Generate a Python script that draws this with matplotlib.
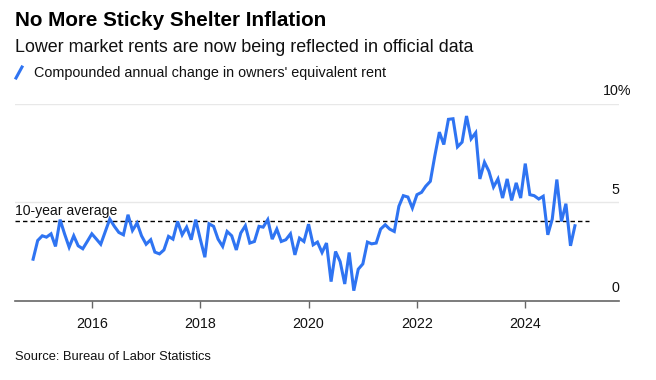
import numpy as np
import pandas as pd
import matplotlib
matplotlib.use("Agg")
import matplotlib.pyplot as plt
import matplotlib.dates as mdates

plt.rcParams['font.family'] = ['Liberation Sans', 'DejaVu Sans']

# monthly compounded annual change in OER, Dec 2014 - Dec 2024
months = pd.date_range('2014-12-01', '2024-12-01', freq='MS')
oer = [2.11, 3.06, 3.30, 3.23, 3.40, 2.76, 4.12, 3.40, 2.72, 3.30, 2.79, 2.64,
       3.01, 3.40, 3.13, 2.87, 3.52, 4.15, 3.78, 3.47, 3.35, 4.37, 3.57, 3.95,
       3.30, 2.87, 3.10, 2.47, 2.38, 2.58, 3.27, 3.13, 4.03, 3.35, 3.74, 3.10,
       4.12, 3.13, 2.21, 3.91, 3.78, 3.13, 2.76, 3.52, 3.30, 2.58, 3.44, 3.81,
       2.93, 3.01, 3.78, 3.74, 4.12, 3.13, 3.64, 3.01, 3.10, 3.40, 2.33, 3.18,
       3.01, 3.89, 2.84, 2.98, 2.45, 2.93, 0.97, 2.50, 1.99, 0.85, 2.45, 0.51,
       1.60, 1.87, 2.98, 2.89, 2.93, 3.64, 3.86, 3.64, 3.52, 4.80, 5.34, 5.27,
       4.71, 5.39, 5.51, 5.82, 6.07, 7.35, 8.57, 7.94, 9.22, 9.25, 7.82, 8.06,
       9.39, 8.23, 8.54, 6.19, 7.04, 6.58, 5.78, 6.19, 5.22, 6.19, 5.10, 5.99,
       5.22, 6.97, 5.39, 5.34, 5.17, 5.31, 3.35, 4.15, 6.16, 4.03, 4.93, 2.79,
       3.81]
avg_10yr = 4.05
avg_end = pd.Timestamp('2025-03-05')

year_ticks = [2016, 2018, 2020, 2022, 2024]
y_ticks = [0, 5, 10]
y_labels = ['0', '5', '10%']

W, H = 656, 380
fig = plt.figure(figsize=(W / 100, H / 100), dpi=100)
fig.patch.set_facecolor('white')

def px(x, y):
    return x / W, 1 - y / H

left, right, top, bottom = 15, 619, 104, 300.7
ax = fig.add_axes([left / W, 1 - bottom / H, (right - left) / W, (bottom - top) / H])

blue = '#2f74f2'
ax.plot(months, oer, color=blue, lw=2.2, solid_joinstyle='miter', zorder=3, clip_on=False)
ax.plot([pd.Timestamp('2014-08-01'), avg_end], [avg_10yr, avg_10yr],
        color='black', lw=1.0, ls=(0, (3.2, 2.2)), zorder=2, clip_on=False)
ax.text(pd.Timestamp('2014-08-01'), avg_10yr + 0.15, '10-year average',
        fontsize=10.1, va='bottom', ha='left', color='#111111')

ax.set_xlim(pd.Timestamp('2014-08-01'), pd.Timestamp('2025-09-24'))
ax.set_ylim(0, 10)

for v in y_ticks[1:]:
    ax.axhline(v, color='#e8e8e8', lw=1.0, zorder=1)
for s in ['top', 'right', 'left']:
    ax.spines[s].set_visible(False)
ax.spines['bottom'].set_color('#666666')
ax.spines['bottom'].set_linewidth(1.2)

ax.set_yticks([])
ax.set_xticks([pd.Timestamp(f'{y}-01-01') for y in year_ticks])
ax.set_xticklabels([str(y) for y in year_ticks])
ax.tick_params(axis='x', length=5, width=1, color='#666666', labelsize=10.3,
               labelcolor='#111111', pad=7)

# right-side y labels, sitting above their gridlines ('%' hangs past the edge)
for v, lab in zip(y_ticks, y_labels):
    xr = 1.0 + (12.5 / (right - left) if lab.endswith('%') else 0)
    ax.text(xr, v + 0.65, lab, transform=ax.get_yaxis_transform(),
            ha='right', va='center', fontsize=10.3, color='#111111')

fig.text(*px(15, 20), 'No More Sticky Shelter Inflation', fontsize=14.9,
         fontweight='bold', va='center', ha='left', color='black')
fig.text(*px(15, 47.5), 'Lower market rents are now being reflected in official data',
         fontsize=12.9, va='center', ha='left', color='#111111')
fig.lines.append(plt.Line2D([16 / W, 22 / W], [1 - 78 / H, 1 - 67 / H],
                            transform=fig.transFigure, color=blue, lw=2.2))
fig.text(*px(34, 72.5), "Compounded annual change in owners' equivalent rent",
         fontsize=10.4, va='center', ha='left', color='#111111')
fig.text(*px(15, 357), 'Source: Bureau of Labor Statistics', fontsize=9.3,
         va='center', ha='left', color='#111111')

fig.savefig('out.png', dpi=100, facecolor='white')
